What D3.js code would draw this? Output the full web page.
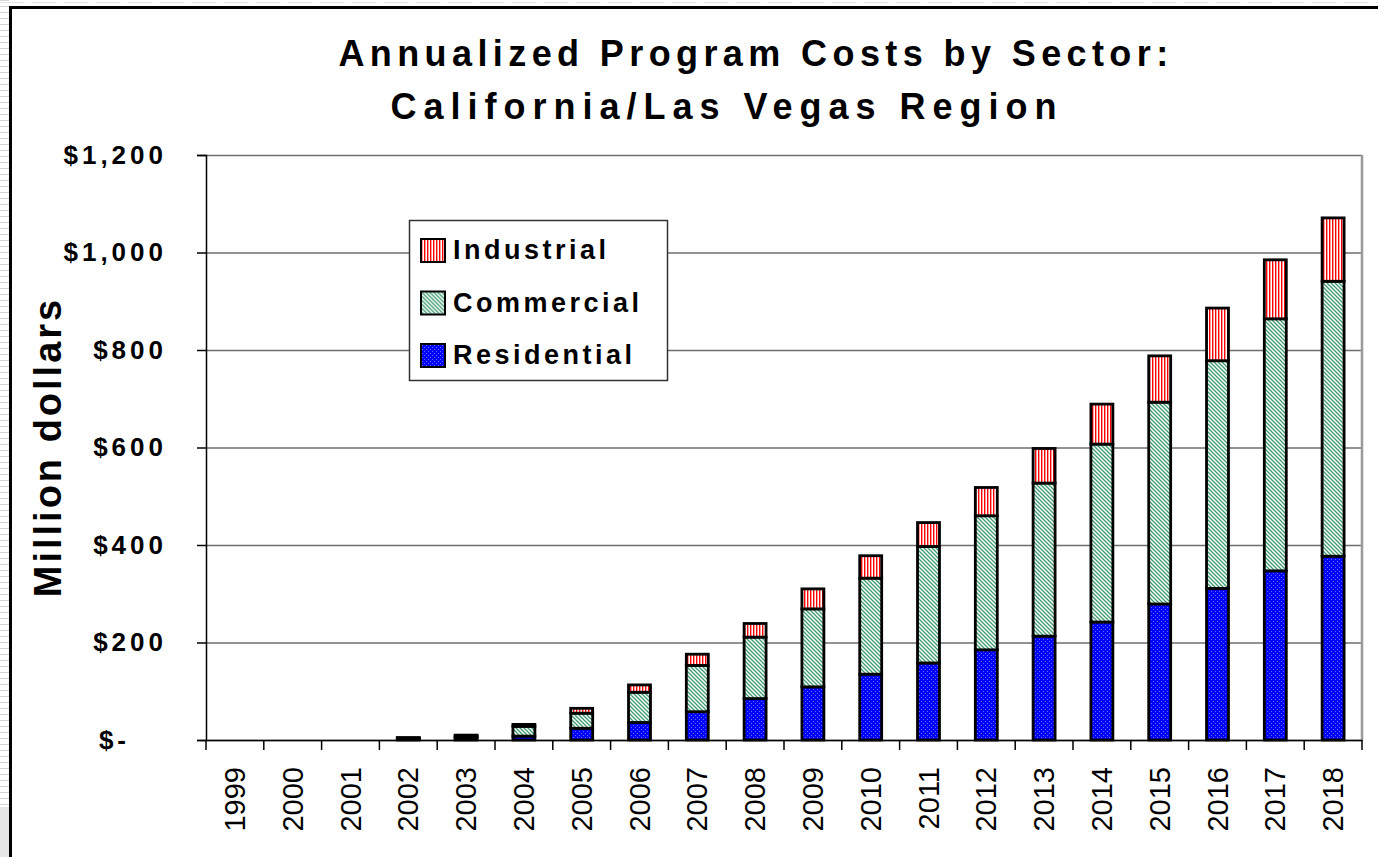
<!DOCTYPE html>
<html>
<head>
<meta charset="utf-8">
<script src="https://cdn.jsdelivr.net/npm/d3@7"></script>
<style>
  body { margin: 0; background: #fff; }
  text { font-family: "Liberation Sans", Arial, sans-serif; }
</style>
</head>
<body>
<svg width="1378" height="857"></svg>
<script>
// values, million dollars
const years = ['1999', '2000', '2001', '2002', '2003', '2004', '2005', '2006', '2007', '2008',
  '2009', '2010', '2011', '2012', '2013', '2014', '2015', '2016', '2017', '2018'];
const residential = [0, 0, 0, 2, 4, 8, 24, 36, 58, 85, 109, 135, 158, 185, 213, 242, 279, 311, 347, 377];
const commercial = [0, 0, 0, 2, 4, 20, 31, 62, 95, 126, 160, 197, 239, 275, 314, 365, 414, 467, 517, 564];
const industrial = [0, 0, 0, 1, 2, 4, 10, 15, 23, 28, 41, 46, 49, 58, 71, 82, 95, 108, 121, 130];
const yTicks = [0, 200, 400, 600, 800, 1000, 1200];
const sectors = ['Residential', 'Commercial', 'Industrial'];
const legendOrder = ['Industrial', 'Commercial', 'Residential'];

const svg = d3.select('svg');
const plot = { left: 206, right: 1362, top: 155, bottom: 740 };

// patterns
const defs = svg.append('defs');
const pInd = defs.append('pattern').attr('id', 'pat-ind')
  .attr('patternUnits', 'userSpaceOnUse').attr('width', 3).attr('height', 3);
pInd.append('rect').attr('width', 3).attr('height', 3).attr('fill', '#fff');
pInd.append('rect').attr('x', 0).attr('width', 1.3).attr('height', 3).attr('fill', '#ff0000');
pInd.append('rect').attr('x', 1.3).attr('width', 0.7).attr('height', 3).attr('fill', '#ff9090');

const pCom = defs.append('pattern').attr('id', 'pat-com')
  .attr('patternUnits', 'userSpaceOnUse').attr('width', 4).attr('height', 4);
pCom.append('rect').attr('width', 4).attr('height', 4).attr('fill', '#fff');
pCom.append('path').attr('d', 'M-1,-1L5,5M-1,3L1,5M3,-1L5,1')
  .attr('stroke', '#3d9a6e').attr('stroke-width', 1.3);

const pRes = defs.append('pattern').attr('id', 'pat-res')
  .attr('patternUnits', 'userSpaceOnUse').attr('width', 4).attr('height', 4);
pRes.append('rect').attr('width', 4).attr('height', 4).attr('fill', '#0000ff');
pRes.append('rect').attr('x', 1).attr('y', 1).attr('width', 1).attr('height', 1).attr('fill', '#6a6aff');
pRes.append('rect').attr('x', 3).attr('y', 3).attr('width', 1).attr('height', 1).attr('fill', '#6a6aff');

const fills = { Industrial: 'url(#pat-ind)', Commercial: 'url(#pat-com)', Residential: 'url(#pat-res)' };

// page surroundings: spreadsheet strip on the left, frame of the chart object
const strip = svg.append('g');
d3.range(0, 807, 6).forEach(v => {
  strip.append('line').attr('x1', 0).attr('x2', 9).attr('y1', v + 0.5).attr('y2', v + 0.5)
    .attr('stroke', '#d4d4d4');
});
strip.append('rect').attr('x', 0).attr('y', 807).attr('width', 9).attr('height', 50).attr('fill', '#e6e6e6');
d3.range(0, 1378, 32).forEach(v => {
  strip.append('line').attr('x1', v).attr('x2', v + 24).attr('y1', 2.5).attr('y2', 2.5)
    .attr('stroke', '#e2e2e2');
});
svg.append('rect').attr('x', 10.5).attr('y', 7.5).attr('width', 1400).attr('height', 900)
  .attr('fill', '#fff').attr('stroke', '#000').attr('stroke-width', 3);

const x = d3.scaleBand().domain(years).range([plot.left, plot.right])
  .paddingInner(0.62).paddingOuter(0.31);
const y = d3.scaleLinear().domain([0, 1200]).range([plot.bottom, plot.top]);

// gridlines + plot border
svg.append('g')
  .attr('transform', 'translate(' + plot.left + ',0)')
  .call(d3.axisLeft(y).tickValues(yTicks).tickSize(-(plot.right - plot.left)).tickFormat(''))
  .call(g => g.select('.domain').remove())
  .call(g => g.selectAll('line').attr('stroke', '#6e6e6e').attr('stroke-width', 1.5));
svg.append('line').attr('x1', plot.right).attr('x2', plot.right)
  .attr('y1', plot.top).attr('y2', plot.bottom)
  .attr('stroke', '#999').attr('stroke-width', 2.5);

// stacked bars
const table = years.map((yr, i) => ({
  year: yr, Residential: residential[i], Commercial: commercial[i], Industrial: industrial[i]
}));
const series = d3.stack().keys(sectors)(table);

svg.append('g').selectAll('g')
  .data(series)
  .enter().append('g')
  .attr('fill', d => fills[d.key])
  .selectAll('rect')
  .data(d => d.filter(s => s[1] > s[0]))
  .enter().append('rect')
  .attr('x', d => x(d.data.year))
  .attr('width', x.bandwidth())
  .attr('y', d => y(d[1]))
  .attr('height', d => y(d[0]) - y(d[1]))
  .attr('stroke', '#000')
  .attr('stroke-width', 2.8);

// y axis
const yAxis = svg.append('g')
  .attr('transform', 'translate(' + plot.left + ',0)')
  .call(d3.axisLeft(y).tickValues(yTicks).tickSize(9).tickPadding(30)
    .tickFormat(d => d === 0 ? '$-' : '$' + d3.format(',')(d)));
yAxis.select('.domain').attr('stroke', '#000').attr('stroke-width', 1.5);
yAxis.selectAll('line').attr('stroke', '#000').attr('stroke-width', 1.5);
yAxis.selectAll('text')
  .attr('font-size', 26).attr('font-weight', 'bold').attr('letter-spacing', 4)
  .attr('fill', '#000')
  .attr('dx', d => d === 0 ? -37 : 0)
  .style('font-family', '"Liberation Sans", Arial, sans-serif');

// x axis
const xAxis = svg.append('g')
  .attr('transform', 'translate(0,' + plot.bottom + ')')
  .call(d3.axisBottom(x).tickSize(0).tickFormat(''));
xAxis.select('.domain').attr('stroke', '#000').attr('stroke-width', 1.5);
svg.append('g').selectAll('line')
  .data(years)
  .enter().append('line')
  .attr('x1', d => x(d) - x.step() * x.paddingInner() / 2)
  .attr('x2', d => x(d) - x.step() * x.paddingInner() / 2)
  .attr('y1', plot.bottom).attr('y2', plot.bottom + 10)
  .attr('stroke', '#000').attr('stroke-width', 1.5);
svg.append('line')
  .attr('x1', plot.right).attr('x2', plot.right)
  .attr('y1', plot.bottom).attr('y2', plot.bottom + 10)
  .attr('stroke', '#000').attr('stroke-width', 1.5);
svg.append('g').selectAll('text')
  .data(years)
  .enter().append('text')
  .attr('transform', d => 'translate(' + (x(d) + x.bandwidth() / 2) + ',' + (plot.bottom + 27) + ') rotate(-90)')
  .attr('text-anchor', 'end')
  .attr('dy', '0.35em')
  .attr('font-size', 29)
  .attr('fill', '#000')
  .text(d => d);

// axis title
svg.append('text')
  .attr('transform', 'translate(61,447) rotate(-90)')
  .attr('text-anchor', 'middle')
  .attr('font-size', 38).attr('font-weight', 'bold').attr('letter-spacing', 3)
  .text('Million dollars');

// chart title
svg.append('text')
  .attr('x', 756).attr('y', 66)
  .attr('text-anchor', 'middle')
  .attr('font-size', 36).attr('font-weight', 'bold').attr('letter-spacing', 5.4)
  .text('Annualized Program Costs by Sector:');
svg.append('text')
  .attr('x', 727).attr('y', 119)
  .attr('text-anchor', 'middle')
  .attr('font-size', 36).attr('font-weight', 'bold').attr('letter-spacing', 7)
  .text('California/Las Vegas Region');

// legend
const legend = svg.append('g').attr('transform', 'translate(409,220)');
legend.append('rect').attr('x', 0.5).attr('y', 0.5).attr('width', 258).attr('height', 160)
  .attr('fill', '#fff').attr('stroke', '#333').attr('stroke-width', 1.5);
const item = legend.selectAll('.item')
  .data(legendOrder)
  .enter().append('g')
  .attr('class', 'item')
  .attr('transform', (d, i) => 'translate(12,' + (19 + i * 52.5) + ')');
item.append('rect')
  .attr('width', 24).attr('height', 23)
  .attr('fill', d => fills[d])
  .attr('stroke', '#000').attr('stroke-width', 2);
item.append('text')
  .attr('x', 32).attr('y', 20)
  .attr('font-size', 27).attr('font-weight', 'bold').attr('letter-spacing', 3.5)
  .text(d => d);
</script>
</body>
</html>
